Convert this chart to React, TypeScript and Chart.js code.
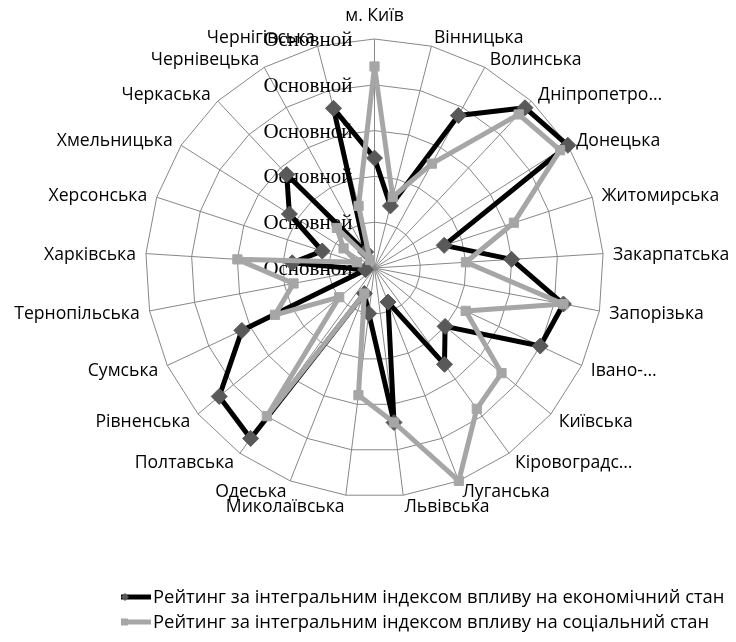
import React, { useEffect, useRef } from "react";
import { Chart, registerables } from "chart.js";

Chart.register(...registerables);

const categories = [
  "м. Київ",
  "Вінницька",
  "Волинська",
  "Дніпропетро…",
  "Донецька",
  "Житомирська",
  "Закарпатська",
  "Запорізька",
  "Івано-…",
  "Київська",
  "Кіровоградс…",
  "Луганська",
  "Львівська",
  "Миколаївська",
  "Одеська",
  "Полтавська",
  "Рівненська",
  "Сумська",
  "Тернопільська",
  "Харківська",
  "Херсонська",
  "Хмельницька",
  "Черкаська",
  "Чернівецька",
  "Чернігівська",
];

const economicRating = [12, 7, 19, 24, 25, 8, 15, 21, 20, 10, 13, 4, 17, 5, 3, 23, 22, 16, 1, 9, 6, 11, 14, 2, 18];
const socialRating = [22, 8, 13, 23, 24, 16, 10, 21, 11, 18, 19, 25, 17, 14, 3, 20, 5, 12, 9, 15, 2, 4, 6, 1, 7];

const tickValues = [0, 5, 10, 15, 20, 25];
const tickLabel = "Основной";

const seriesNames = [
  "Рейтинг за інтегральним індексом впливу на економічний стан",
  "Рейтинг за інтегральним індексом впливу на соціальний стан",
];

const W = 728;
const H = 626;
const CX = 366.5;
const CY = 260;
const RADIUS = 229;
const LABEL_FONT = '17.6px "Open Sans"';
const LEGEND_FONT = '18.4px "Open Sans"';
const TICK_FONT = '21px "Liberation Serif"';
const ECON_LINE = "#000000";
const ECON_MARK = "#595959";
const SOC_LINE = "#a6a6a6";
const SOC_MARK = "#a6a6a6";
const GRID = "#878787";

const labelsPlugin = {
  id: "customLabels",
  beforeDatasetsDraw(chart: any) {
    const s = chart.scales.r;
    const ctx = chart.ctx;
    ctx.save();
    ctx.font = TICK_FONT;
    ctx.fillStyle = "#000";
    ctx.textAlign = "right";
    ctx.textBaseline = "middle";
    for (const v of tickValues) {
      const d = s.getDistanceFromCenterForValue(v);
      ctx.fillText(tickLabel, s.xCenter - 22, s.yCenter - d + 1.5);
    }
    ctx.restore();
  },
  afterDraw(chart: any) {
    const s = chart.scales.r;
    const ctx = chart.ctx;
    ctx.save();
    ctx.font = LABEL_FONT;
    ctx.fillStyle = "#000";
    const n = categories.length;
    categories.forEach((lab, i) => {
      const p = s.getPointPosition(i, s.drawingArea + 10);
      const deg = (360 * i) / n;
      if (i === 0) {
        ctx.textAlign = "center";
        ctx.textBaseline = "alphabetic";
        ctx.fillText(lab, p.x, s.yCenter - s.drawingArea - 18);
      } else {
        ctx.textAlign = deg < 180 ? "left" : "right";
        ctx.textBaseline = "middle";
        ctx.fillText(lab, p.x, p.y + 1.5);
      }
    });

    // legend
    const rows = [589, 614];
    const lineX0 = 113;
    const lineX1 = 143;
    const textX = 145;
    rows.forEach((y, k) => {
      ctx.lineWidth = 5;
      ctx.strokeStyle = k === 0 ? ECON_LINE : SOC_LINE;
      ctx.lineCap = "butt";
      ctx.beginPath();
      ctx.moveTo(lineX0, y);
      ctx.lineTo(lineX1, y);
      ctx.stroke();
      ctx.fillStyle = k === 0 ? ECON_MARK : SOC_MARK;
      ctx.beginPath();
      if (k === 0) {
        ctx.moveTo(117, y - 4);
        ctx.lineTo(121, y);
        ctx.lineTo(117, y + 4);
        ctx.lineTo(113, y);
        ctx.closePath();
      } else {
        ctx.rect(113, y - 3.5, 7, 7);
      }
      ctx.fill();
      ctx.fillStyle = "#000";
      ctx.textAlign = "left";
      ctx.textBaseline = "middle";
      ctx.font = LEGEND_FONT;
      ctx.fillText(seriesNames[k], textX, y + 1);
    });
    ctx.restore();
  },
};

export default function App() {
  const ref = useRef<HTMLCanvasElement | null>(null);

  useEffect(() => {
    if (!ref.current) return;
    const chart = new Chart(ref.current, {
      type: "radar",
      data: {
        labels: categories,
        datasets: [
          {
            label: seriesNames[0],
            data: economicRating,
            borderColor: ECON_LINE,
            borderWidth: 5,
            borderJoinStyle: "round",
            backgroundColor: "transparent",
            fill: false,
            pointStyle: "rectRot",
            pointRadius: 8,
            pointBackgroundColor: ECON_MARK,
            pointBorderColor: ECON_MARK,
            pointBorderWidth: 1,
            order: 1,
          },
          {
            label: seriesNames[1],
            data: socialRating,
            borderColor: SOC_LINE,
            borderWidth: 5,
            borderJoinStyle: "round",
            backgroundColor: "transparent",
            fill: false,
            pointStyle: "rect",
            pointRadius: 6.5,
            pointBackgroundColor: SOC_MARK,
            pointBorderColor: SOC_MARK,
            pointBorderWidth: 1,
            order: 0,
          },
        ],
      },
      options: {
        responsive: false,
        animation: false,
        events: [],
        plugins: {
          legend: { display: false },
          tooltip: { enabled: false },
        },
        elements: { line: { tension: 0 } },
        scales: {
          r: {
            min: 0,
            max: 25,
            ticks: { stepSize: 5, display: false },
            pointLabels: { display: false },
            grid: { color: GRID, lineWidth: 1 },
            angleLines: { color: GRID, lineWidth: 1 },
            afterFit: (s: any) => {
              s.xCenter = CX;
              s.yCenter = CY;
              s.drawingArea = RADIUS;
            },
          },
        },
      },
      plugins: [labelsPlugin],
    } as any);
    return () => chart.destroy();
  }, []);

  return (
    <div style={{ width: W, height: H }}>
      <canvas ref={ref} width={W} height={H} style={{ display: "block", width: W, height: H }} />
    </div>
  );
}
